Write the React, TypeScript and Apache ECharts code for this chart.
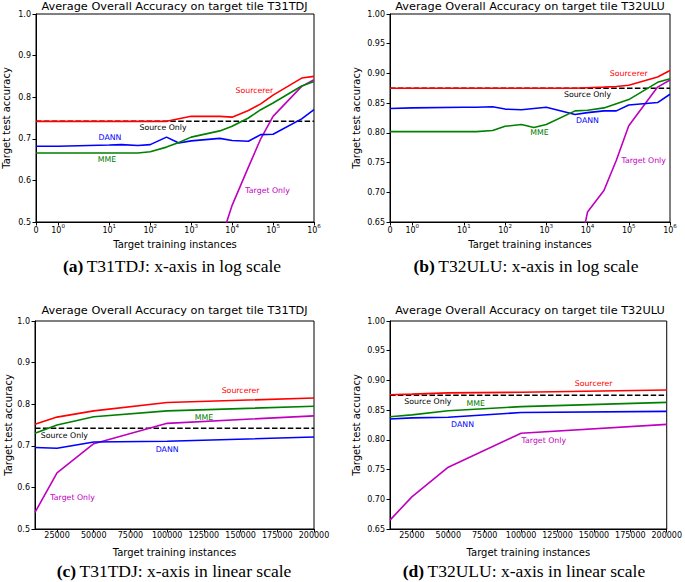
import React, { useEffect, useRef } from "react";
import * as echarts from "echarts";

// ---------- data ----------
const logX = [0, 1, 10, 20, 50, 100, 250, 500, 1000, 5000, 10000, 25000, 50000, 100000, 500000, 1000000];
const linX = [10000, 25000, 50000, 100000, 200000];

const logTickValues = [0, 1, 10, 100, 1000, 10000, 100000, 1000000];
const logTickExponents = [null, 0, 1, 2, 3, 4, 5, 6];
const linTickValues = [25000, 50000, 75000, 100000, 125000, 150000, 175000, 200000];

const sourcererA = [0.742, 0.742, 0.742, 0.742, 0.742, 0.742, 0.742, 0.748, 0.754, 0.754, 0.752, 0.768, 0.784, 0.805, 0.846, 0.850];
const mmeA = [0.666, 0.666, 0.666, 0.666, 0.666, 0.669, 0.680, 0.691, 0.704, 0.719, 0.730, 0.750, 0.770, 0.786, 0.827, 0.838];
const dannA = [0.682, 0.682, 0.685, 0.686, 0.684, 0.686, 0.704, 0.690, 0.695, 0.701, 0.696, 0.694, 0.710, 0.711, 0.748, 0.770];
const targetA = [null, null, null, null, null, null, null, null, null, 0.449, 0.540, 0.632, 0.700, 0.754, 0.826, 0.842];
const sourceOnlyA = 0.742;

const sourcererB = [0.875, 0.875, 0.875, 0.875, 0.875, 0.875, 0.875, 0.875, 0.875, 0.875, 0.876, 0.877, 0.878, 0.880, 0.894, 0.905];
const mmeB = [0.802, 0.802, 0.802, 0.802, 0.804, 0.811, 0.814, 0.809, 0.814, 0.837, 0.838, 0.842, 0.849, 0.856, 0.885, 0.891];
const dannB = [0.841, 0.842, 0.843, 0.843, 0.844, 0.840, 0.839, 0.841, 0.843, 0.831, 0.834, 0.837, 0.837, 0.847, 0.851, 0.865];
const targetB = [null, null, null, null, null, null, null, null, null, 0.565, 0.667, 0.703, 0.754, 0.812, 0.877, 0.889];
const sourceOnlyB = 0.875;

const sourcererC = [0.752, 0.769, 0.784, 0.804, 0.815];
const mmeC = [0.730, 0.750, 0.770, 0.784, 0.795];
const dannC = [0.696, 0.694, 0.709, 0.711, 0.721];
const targetC = [0.540, 0.635, 0.705, 0.754, 0.772];
const sourceOnlyC = 0.742;

const sourcererD = [0.876, 0.877, 0.879, 0.880, 0.884];
const mmeD = [0.839, 0.842, 0.849, 0.856, 0.863];
const dannD = [0.835, 0.837, 0.838, 0.846, 0.848];
const targetD = [0.665, 0.704, 0.754, 0.811, 0.826];
const sourceOnlyD = 0.875;

const seriesNames = ["Sourcerer", "MME", "DANN", "Target Only", "Source Only"];

// annotation anchors [x (instances), y]
const notesA = [[35000, 0.817], [9, 0.651], [10.4, 0.702], [73600, 0.576], [205, 0.727]];
const notesB = [[100000, 0.900], [680, 0.800], [10000, 0.820], [230000, 0.754], [10000, 0.8645]];
const notesC = [[150000, 0.832], [125000, 0.769], [100000, 0.691], [35600, 0.576], [30000, 0.7255]];
const notesD = [[149800, 0.894], [68800, 0.862], [59800, 0.826], [115600, 0.799], [36000, 0.865]];

const titleA = "Average Overall Accuracy on target tile T31TDJ";
const titleB = "Average Overall Accuracy on target tile T32ULU";
const captions = [
  ["(a)", "T31TDJ: x-axis in log scale"],
  ["(b)", "T32ULU: x-axis in log scale"],
  ["(c)", "T31TDJ: x-axis in linear scale"],
  ["(d)", "T32ULU: x-axis in linear scale"],
];

// ---------- helpers ----------
function symlogPos(x: number): number {
  if (x <= 1) return 0.54 * x;
  if (x <= 10) return 0.54 + 1.25 * Math.log10(x);
  return 1.79 + Math.log10(x / 10);
}

const COLORS: Record<string, string> = {
  Sourcerer: "#ff0000",
  MME: "#008000",
  DANN: "#0000ff",
  "Target Only": "#bf00bf",
  "Source Only": "#000000",
};

const FONT = "DejaVu Sans";

export default function App() {
  const ref = useRef<HTMLDivElement>(null);

  useEffect(() => {
    document.body.style.margin = "0";
    if (!ref.current) return;
    const chart = echarts.init(ref.current, null, { renderer: "svg" });

    const grids = [
      { left: 35, top: 14, width: 279, height: 208 },
      { left: 390, top: 14, width: 280, height: 208 },
      { left: 35, top: 321, width: 279, height: 208 },
      { left: 390, top: 321, width: 280, height: 208 },
    ];

    const panels = [
      { log: true, x: logX, vals: [sourcererA, mmeA, dannA, targetA], src: sourceOnlyA, yMin: 0.5, yMax: 1.0, step: 0.1, dec: 1, title: titleA, notes: notesA, yGap: 25, xGap: 17 },
      { log: true, x: logX, vals: [sourcererB, mmeB, dannB, targetB], src: sourceOnlyB, yMin: 0.65, yMax: 1.0, step: 0.05, dec: 2, title: titleB, notes: notesB, yGap: 29, xGap: 17 },
      { log: false, x: linX, vals: [sourcererC, mmeC, dannC, targetC], src: sourceOnlyC, yMin: 0.5, yMax: 1.0, step: 0.1, dec: 1, title: titleA, notes: notesC, yGap: 22, xGap: 18 },
      { log: false, x: linX, vals: [sourcererD, mmeD, dannD, targetD], src: sourceOnlyD, yMin: 0.65, yMax: 1.0, step: 0.05, dec: 2, title: titleB, notes: notesD, yGap: 29, xGap: 18 },
    ];

    const xAxes: any[] = [];
    const yAxes: any[] = [];
    const series: any[] = [];

    panels.forEach((p, i) => {
      const tx = (v: number) => (p.log ? symlogPos(v) : v);
      const xMin = tx(p.x[0]);
      const xMax = tx(p.x[p.x.length - 1]);
      const tickVals = p.log ? logTickValues.map(tx) : linTickValues;
      xAxes.push({
        type: "value",
        gridIndex: i,
        min: xMin,
        max: xMax,
        name: "Target training instances",
        nameLocation: "middle",
        nameGap: p.xGap,
        nameTextStyle: { fontFamily: FONT, fontSize: 10, color: "#000" },
        axisLine: { show: true, lineStyle: { color: "#000", width: 1 } },
        axisTick: { show: true, length: 3.5, inside: false, customValues: tickVals, lineStyle: { color: "#000" } },
        splitLine: { show: false },
        axisLabel: {
          show: true,
          customValues: tickVals,
          margin: p.log ? 1 : 2,
          fontFamily: FONT,
          fontSize: 8,
          color: "#000",
          formatter: (v: number) => {
            if (!p.log) return String(Math.round(v));
            let idx = 0;
            let best = Infinity;
            tickVals.forEach((t, k) => {
              const d = Math.abs(t - v);
              if (d < best) { best = d; idx = k; }
            });
            const e = logTickExponents[idx];
            return e === null ? "{b|0}" : `{b|10}{s|${e}}`;
          },
          rich: p.log
            ? {
                b: { fontFamily: FONT, fontSize: 8, color: "#000", lineHeight: 11, verticalAlign: "bottom" },
                s: { fontFamily: FONT, fontSize: 5.5, color: "#000", lineHeight: 6, verticalAlign: "top" },
              }
            : undefined,
        },
      });
      yAxes.push({
        type: "value",
        gridIndex: i,
        min: p.yMin,
        max: p.yMax,
        interval: p.step,
        name: "Target test accuracy",
        nameLocation: "middle",
        nameRotate: 90,
        nameGap: p.yGap,
        nameTextStyle: { fontFamily: FONT, fontSize: 10, color: "#000" },
        axisLine: { show: true, lineStyle: { color: "#000", width: 1 } },
        axisTick: { show: true, length: 3.5, inside: false, lineStyle: { color: "#000" } },
        splitLine: { show: false },
        axisLabel: {
          margin: 5,
          fontFamily: FONT,
          fontSize: 8,
          color: "#000",
          formatter: (v: number) => v.toFixed(p.dec),
        },
      });

      // Source Only dashed line (lowest)
      series.push({
        type: "line",
        name: "Source Only",
        xAxisIndex: i,
        yAxisIndex: i,
        data: [[xMin, p.src], [xMax, p.src]],
        showSymbol: false,
        symbol: "none",
        lineStyle: { color: "#000", width: 1.5, type: [5.5, 2.4] },
        z: 2,
      });
      const order = [3, 2, 1, 0];
      order.forEach((k) => {
        const vals = p.vals[k];
        const data: number[][] = [];
        p.x.forEach((xv, j) => {
          const yv = vals[j];
          if (yv !== null && yv !== undefined) data.push([tx(xv), yv as number]);
        });
        series.push({
          type: "line",
          name: seriesNames[k],
          xAxisIndex: i,
          yAxisIndex: i,
          data,
          showSymbol: false,
          symbol: "none",
          clip: true,
          lineStyle: { color: COLORS[seriesNames[k]], width: 1.6 },
          z: 3 + (3 - k),
        });
      });
    });

    const option: any = {
      animation: false,
      backgroundColor: "#fff",
      grid: grids.map((g) => ({ ...g, show: true, borderColor: "#000", borderWidth: 1, backgroundColor: "transparent", containLabel: false })),
      xAxis: xAxes,
      yAxis: yAxes,
      series,
    };
    chart.setOption(option);

    const graphics: any[] = [];
    panels.forEach((p, i) => {
      const g = grids[i];
      const cx = g.left + g.width / 2;
      graphics.push({
        type: "text",
        x: cx,
        y: i < 2 ? 6.5 : g.top - 11,
        style: { text: p.title, fontFamily: FONT, fontSize: 11.3, fill: "#000", align: "center", verticalAlign: "middle" },
        silent: true,
      });
      const capY = i < 2 ? 266 : 571;
      const capX = i < 2 ? (i === 0 ? 172 : 526) : (i === 2 ? 174 : 524);
      graphics.push({
        type: "text",
        x: capX,
        y: capY,
        style: {
          text: `{b|${captions[i][0]}} {n|${captions[i][1]}}`,
          align: "center",
          verticalAlign: "middle",
          rich: {
            b: { fontFamily: "Liberation Serif", fontSize: 17.5, fontWeight: "bold", fill: "#000" },
            n: { fontFamily: "Liberation Serif", fontSize: 17.5, fill: "#000" },
          },
        },
        silent: true,
      });
      p.notes.forEach((nt, k) => {
        const xv = p.log ? symlogPos(nt[0]) : nt[0];
        const pt = chart.convertToPixel({ gridIndex: i } as any, [xv, nt[1]]) as number[];
        graphics.push({
          type: "text",
          x: pt[0],
          y: pt[1],
          style: { text: seriesNames[k], fontFamily: FONT, fontSize: 7.8, fill: COLORS[seriesNames[k]], align: "center", verticalAlign: "middle" },
          z: 100,
          silent: true,
        });
      });
    });
    chart.setOption({ graphic: graphics });

    return () => chart.dispose();
  }, []);

  return <div ref={ref} style={{ width: 685, height: 582 }} />;
}
